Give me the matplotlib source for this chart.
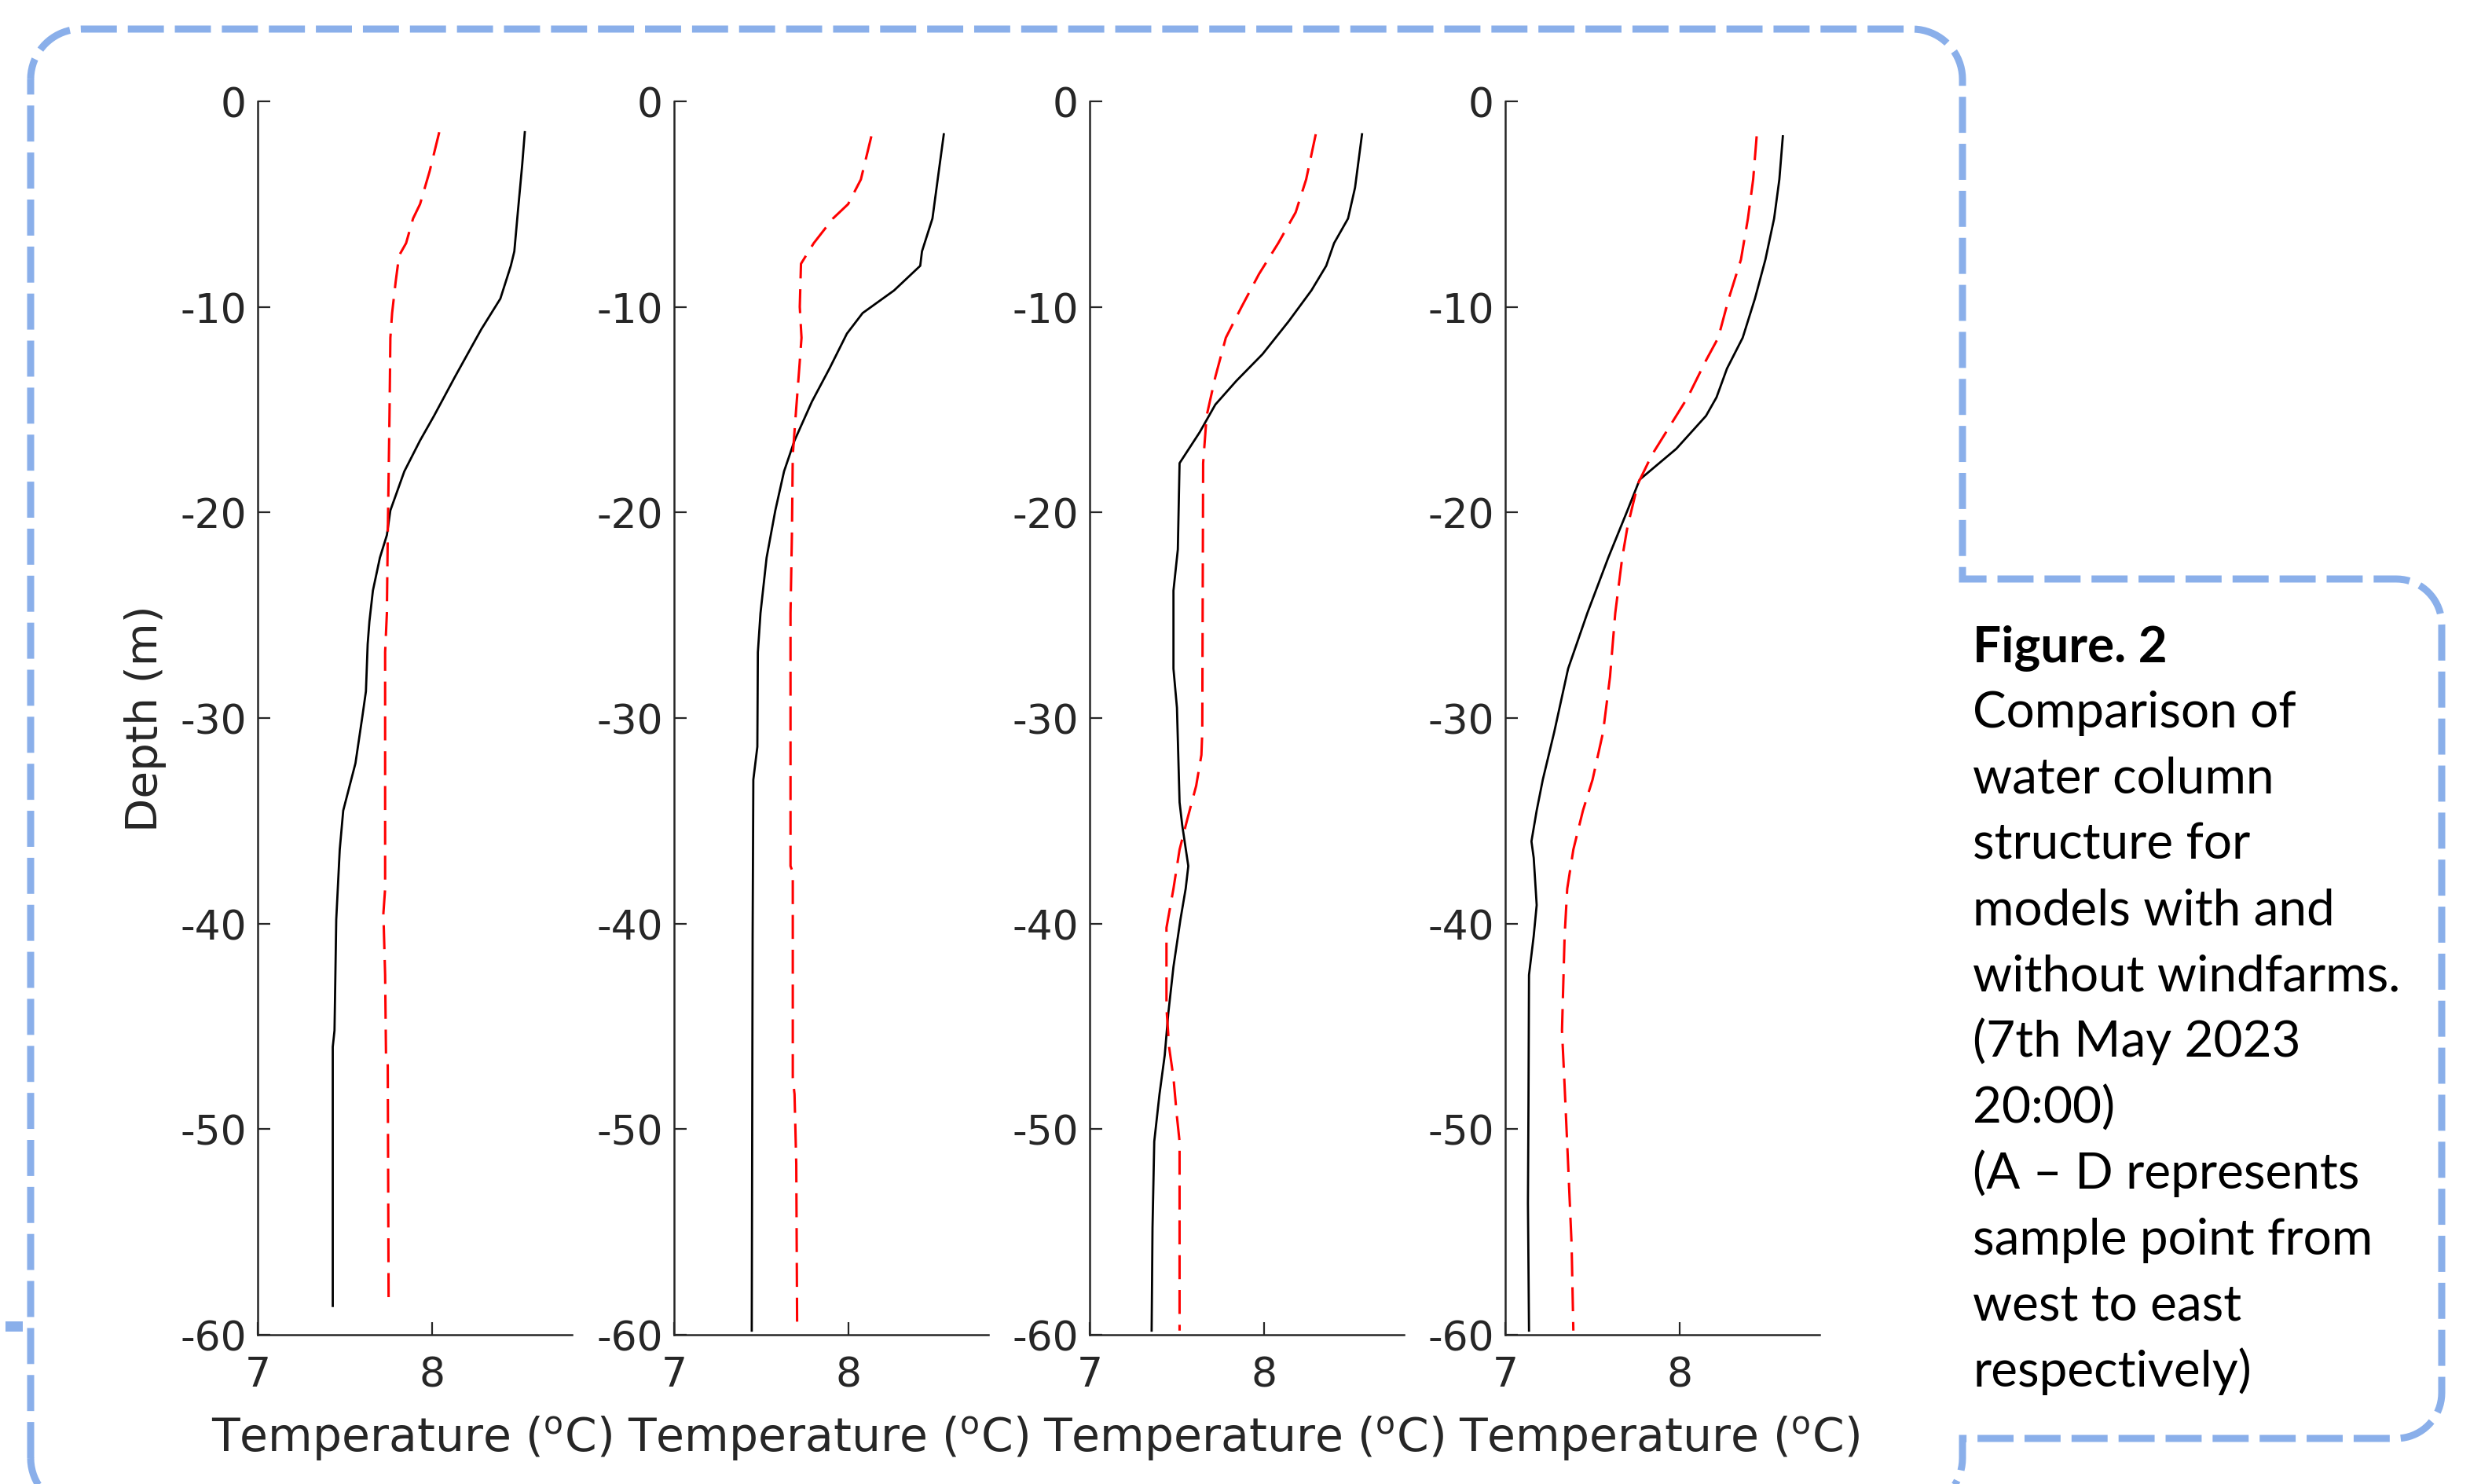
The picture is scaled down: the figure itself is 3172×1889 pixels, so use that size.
import numpy as np
import matplotlib.pyplot as plt
from matplotlib.path import Path
from matplotlib.patches import PathPatch, Rectangle

plt.rcParams['axes.unicode_minus'] = False
plt.rcParams['font.family'] = 'DejaVu Sans'
plt.rcParams['mathtext.fontset'] = 'dejavusans'

# ---- data: depth (m) and temperature (degC) ----
# sample point A
A_black_depth = [-1.5, -3.1, -5.4, -7.3, -8.0, -9.6, -11.1, -13.4, -15.3, -16.5, -18.0, -19.9,
                 -21.1, -22.2, -23.8, -25.3, -26.4, -28.7, -29.9, -32.2, -34.5, -36.4, -39.8,
                 -45.2, -46.0, -58.6]
A_black_temp = [8.53, 8.515, 8.49, 8.47, 8.45, 8.39, 8.28, 8.13, 8.01, 7.93, 7.84, 7.76,
                7.74, 7.70, 7.66, 7.64, 7.63, 7.62, 7.60, 7.56, 7.49, 7.47, 7.45,
                7.44, 7.43, 7.43]
A_red_depth = [-1.5, -3.4, -5.0, -5.7, -6.9, -7.5, -8.8, -10.3, -11.5, -15.3, -21.1, -24.9,
               -26.8, -38.3, -39.5, -42.5, -46.4, -46.9, -58.6]
A_red_temp = [8.04, 7.985, 7.93, 7.89, 7.85, 7.81, 7.79, 7.77, 7.76, 7.755, 7.745, 7.74,
              7.73, 7.73, 7.72, 7.73, 7.735, 7.745, 7.75]

# sample point B
B_black_depth = [-1.6, -3.8, -5.7, -7.3, -8.0, -9.2, -10.3, -11.3, -13.0, -14.6, -16.5, -18.0,
                 -19.9, -22.2, -24.9, -26.8, -31.4, -33.0, -40.6, -59.8]
B_black_temp = [8.545, 8.51, 8.48, 8.42, 8.41, 8.26, 8.08, 7.99, 7.89, 7.79, 7.69, 7.63,
                7.58, 7.53, 7.495, 7.48, 7.477, 7.454, 7.45, 7.445]
B_red_depth = [-1.7, -3.8, -5.0, -5.7, -6.9, -7.9, -10.0, -11.5, -13.0, -14.9, -17.2, -21.1,
               -24.9, -37.2, -37.5, -47.5, -48.3, -51.7, -59.8]
B_red_temp = [8.13, 8.07, 7.997, 7.91, 7.80, 7.727, 7.72, 7.73, 7.717, 7.70, 7.68, 7.675,
              7.667, 7.667, 7.68, 7.68, 7.69, 7.70, 7.705]

# sample point C
C_black_depth = [-1.6, -4.2, -5.7, -6.9, -8.0, -9.2, -10.7, -12.3, -13.6, -14.75, -16.1, -17.6,
                 -21.8, -23.8, -27.6, -29.5, -34.1, -35.2, -37.2, -38.3, -39.8, -42.1, -44.4,
                 -46.4, -48.3, -50.6, -54.8, -59.8]
C_black_temp = [8.56, 8.52, 8.48, 8.40, 8.355, 8.27, 8.14, 7.99, 7.84, 7.72, 7.63, 7.515,
                7.505, 7.48, 7.48, 7.50, 7.515, 7.53, 7.565, 7.55, 7.52, 7.48, 7.45,
                7.43, 7.40, 7.37, 7.36, 7.355]
C_red_depth = [-1.6, -3.8, -5.4, -6.9, -8.4, -10.0, -11.5, -13.4, -15.3, -17.6, -30.7, -31.8,
               -33.3, -34.9, -36.4, -38.3, -40.2, -44.1, -46.0, -47.5, -49.4, -50.6, -59.8]
C_red_temp = [8.295, 8.24, 8.18, 8.08, 7.97, 7.87, 7.78, 7.72, 7.67, 7.65, 7.645, 7.64,
              7.61, 7.56, 7.515, 7.48, 7.44, 7.44, 7.455, 7.48, 7.50, 7.515, 7.515]

# sample point D
D_black_depth = [-1.7, -3.8, -5.7, -7.7, -9.6, -11.5, -13.0, -14.4, -15.3, -16.9, -18.4, -19.9,
                 -22.2, -24.9, -27.6, -30.7, -33.0, -34.5, -36.0, -36.8, -39.1, -40.6, -42.5,
                 -48.7, -53.6, -59.8]
D_black_temp = [8.59, 8.57, 8.54, 8.49, 8.43, 8.36, 8.27, 8.21, 8.15, 7.98, 7.77, 7.70,
                7.59, 7.47, 7.36, 7.28, 7.215, 7.18, 7.15, 7.163, 7.18, 7.163, 7.136,
                7.133, 7.13, 7.136]
D_red_depth = [-1.7, -3.8, -5.7, -7.7, -9.6, -11.5, -12.6, -14.4, -15.7, -17.2, -18.6, -20.7,
               -22.2, -24.9, -28.0, -30.7, -33.0, -34.5, -36.4, -38.3, -40.6, -45.2, -47.9,
               -51.7, -55.6, -59.8]
D_red_temp = [8.44, 8.42, 8.39, 8.35, 8.28, 8.22, 8.15, 8.045, 7.95, 7.84, 7.76, 7.70,
              7.67, 7.63, 7.60, 7.56, 7.50, 7.445, 7.39, 7.355, 7.34, 7.325, 7.34,
              7.36, 7.38, 7.39]

panels = [(A_black_temp, A_black_depth, A_red_temp, A_red_depth),
          (B_black_temp, B_black_depth, B_red_temp, B_red_depth),
          (C_black_temp, C_black_depth, C_red_temp, C_red_depth),
          (D_black_temp, D_black_depth, D_red_temp, D_red_depth)]

depth_ticks = [-60, -50, -40, -30, -20, -10, 0]
temp_ticks = [7, 8]

caption_lines = ['Figure. 2', 'Comparison of', 'water column', 'structure for',
                 'models with and', 'without windfarms.', '(7th May 2023', '20:00)',
                 '(A \u2013 D represents', 'sample point from', 'west to east',
                 'respectively)']

# ---- figure ----
W, H = 3172, 1890
fig = plt.figure(figsize=(W / 200, H / 200), dpi=200)
grey = '#262626'

lefts = [328, 858, 1387, 1916]
for i, (bt, bd, rt, rd) in enumerate(panels):
    ax = fig.add_axes([lefts[i] / W, 1 - 1700 / H, 400 / W, 1570 / H])
    ax.plot(bt, bd, color='black', lw=1.0)
    ax.plot(rt, rd, color='red', lw=1.1, ls=(0, (10, 4.5)))
    ax.set_xlim(7, 8.8)
    ax.set_ylim(-60, 0)
    ax.set_xticks(temp_ticks)
    ax.set_yticks(depth_ticks)
    for s in ['top', 'right']:
        ax.spines[s].set_visible(False)
    for s in ['left', 'bottom']:
        ax.spines[s].set_linewidth(0.9)
        ax.spines[s].set_color(grey)
    ax.tick_params(direction='in', length=5.8, width=0.8, colors=grey, labelsize=18.7)
    ax.tick_params(axis='y', pad=5)
    ax.tick_params(axis='x', pad=9.5)
    ax.set_xlabel(r'Temperature ($^{\mathrm{o}}$C)', fontsize=21, color=grey)
    ax.xaxis.set_label_coords(0.49, -0.0637)
    if i == 0:
        ax.set_ylabel('Depth (m)', fontsize=20.3, color=grey)
        ax.yaxis.set_label_coords(-0.29, 0.5)

# ---- dashed blue outline ----
bg = fig.add_axes([0, 0, 1, 1], zorder=-1)
bg.set_xlim(0, W)
bg.set_ylim(H, 0)
bg.axis('off')


def arc(cx, cy, r, a0, a1, n=20):
    t = np.radians(np.linspace(a0, a1, n))
    return list(zip(cx + r * np.cos(t), cy + r * np.sin(t)))


r1, r2 = 64, 58
pts = [(39, 1857), (39, 38 + r1)]
pts += arc(39 + r1, 38 + r1, r1, 180, 270)
pts += [(2498 - r1, 38)]
pts += arc(2498 - r1, 38 + r1, r1, 270, 360)
pts += [(2498, 738), (3108 - r2, 738)]
pts += arc(3108 - r2, 738 + r2, r2, 270, 360)
pts += [(3108, 1832 - r2)]
pts += arc(3108 - r2, 1832 - r2, r2, 0, 90)
pts += [(2498, 1832), (2498, 1857)]
pts += arc(2498 - r1, 1857, r1, 0, 90)
pts += [(39 + r1, 1857 + r1)]
pts += arc(39 + r1, 1857, r1, 90, 180)
outline = Path(pts)
blue = '#8AAFEA'
bg.add_patch(PathPatch(outline, fill=False, edgecolor=blue, lw=3.24,
                       ls=(0, (5.1, 1.55)), capstyle='butt', clip_on=False))
bg.add_patch(Rectangle((7, 1683), 22, 13, color=blue, lw=0))

# ---- caption ----
for k, line in enumerate(caption_lines):
    y = 842 + 83.9 * k
    fig.text(2511 / W, 1 - y / H, line, family='Lato', fontsize=23,
             fontweight='bold' if k == 0 else 'normal', color='black',
             ha='left', va='baseline')

fig.savefig('out.png', dpi=200, facecolor='white')
